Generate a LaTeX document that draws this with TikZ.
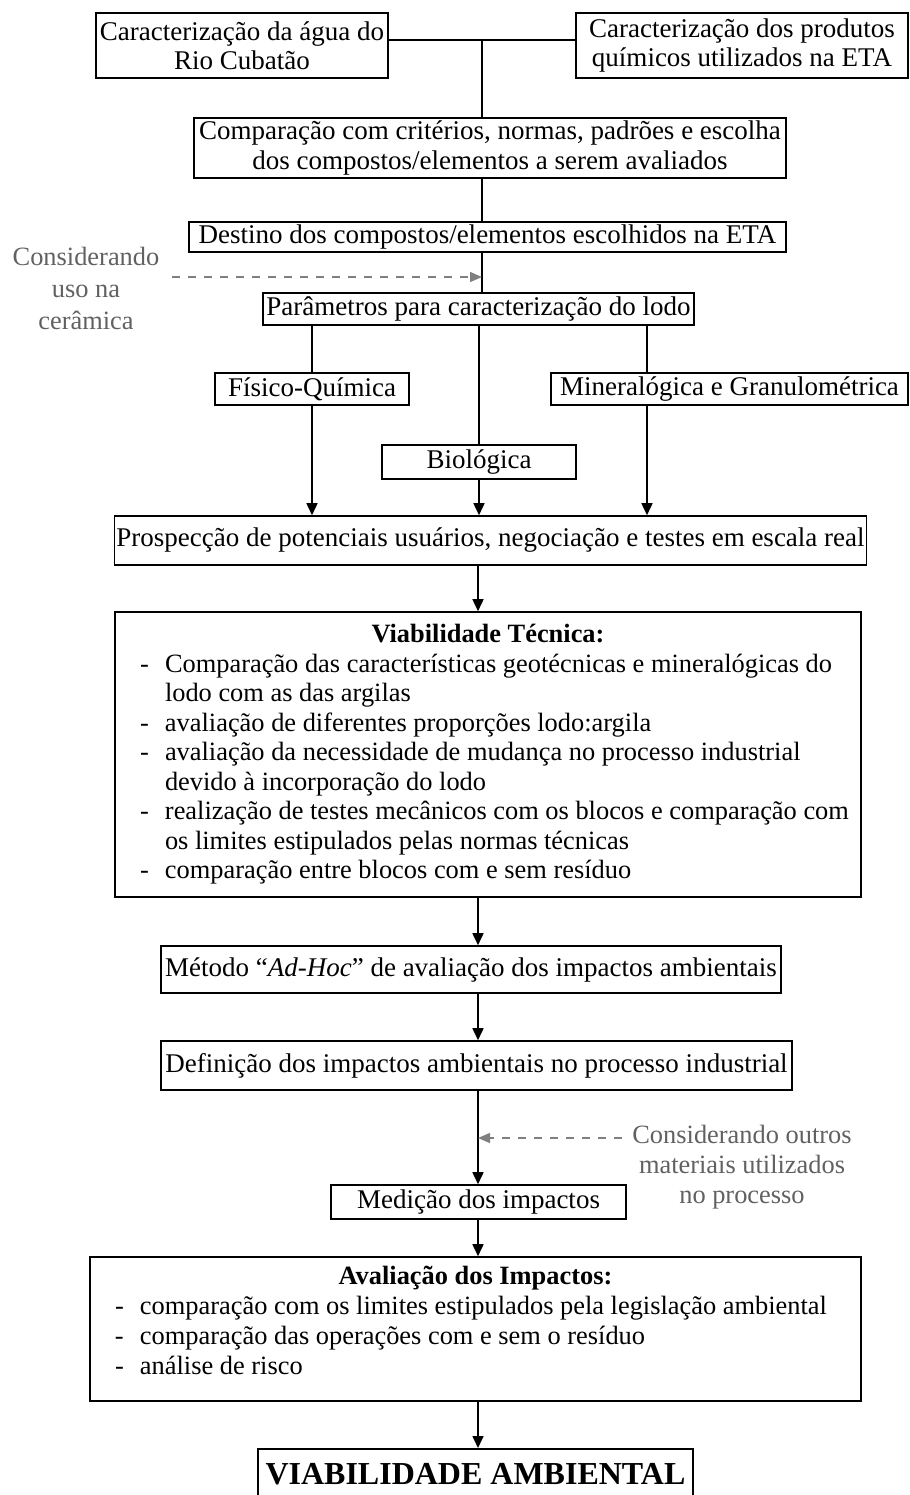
\documentclass[tikz,border=0pt]{standalone}
\usepackage{fontspec}
\setmainfont{Liberation Serif}
\usetikzlibrary{arrows.meta}

\newcommand{\itemline}[1]{\hspace*{9.5pt}\makebox[12.5pt][l]{-}#1}
\newcommand{\restline}[1]{\hspace*{22pt}#1}

\begin{document}
\begin{tikzpicture}[x=0.5pt,y=-0.5pt,
    box/.style={draw, line width=0.8pt, inner sep=1pt, align=center,
      font=\fontsize{13.5}{14.75}\selectfont},
    listbox/.style={box, align=left, inner xsep=3pt, font=\fontsize{13.2}{14.75}\selectfont},
    link/.style={line width=0.8pt},
    flow/.style={line width=0.8pt, -{Triangle[length=6pt,width=5.5pt]}},
    hint/.style={black!62, align=center, font=\fontsize{13.2}{15}\selectfont},
    hintarrow/.style={black!50, line width=0.7pt, dash pattern=on 4pt off 4pt,
      -{Triangle[length=6pt,width=5pt]}}]
    \useasboundingbox (0,0) rectangle (910,1495);
    \node[box, minimum width=146pt, minimum height=32.5pt] (agua) at (242,45.5) {Caracterização da água do\\Rio Cubatão};
    \node[box, minimum width=166pt, minimum height=32.5pt] (produtos) at (742,45.5) {Caracterização dos produtos\\químicos utilizados na ETA};
    \node[box, minimum width=296pt, minimum height=30pt] (comparacao) at (490,148) {Comparação com critérios, normas, padrões e escolha\\dos compostos/elementos a serem avaliados};
    \node[box, minimum width=298.5pt, minimum height=15pt] (destino) at (487.5,237) {Destino dos compostos/elementos escolhidos na ETA};
    \node[box, minimum width=215.5pt, minimum height=16pt] (parametros) at (478.5,309) {Parâmetros para caracterização do lodo};
    \node[box, minimum width=97pt, minimum height=16pt] (fisico) at (312,389) {Físico-Química};
    \node[box, minimum width=178.5pt, minimum height=16pt] (mineral) at (729.5,389) {Mineralógica e Granulométrica};
    \node[box, minimum width=97pt, minimum height=17pt] (bio) at (479,462) {Biológica};
    \node[box, minimum width=374.5pt, minimum height=24.5pt] (prospeccao) at (490.5,540.5) {Prospecção de potenciais usuários, negociação e testes em escala real};
    \node[listbox, minimum width=373pt, minimum height=142.5pt] (tecnica) at (488,754.5) {\makebox[367pt]{\textbf{Viabilidade Técnica:}}\\
      \itemline{Comparação das características geotécnicas e mineralógicas do}\\
      \restline{lodo com as das argilas}\\
      \itemline{avaliação de diferentes proporções lodo:argila}\\
      \itemline{avaliação da necessidade de mudança no processo industrial}\\
      \restline{devido à incorporação do lodo}\\
      \itemline{realização de testes mecânicos com os blocos e comparação com}\\
      \restline{os limites estipulados pelas normas técnicas}\\
      \itemline{comparação entre blocos com e sem resíduo}};
    \node[box, minimum width=310pt, minimum height=23.5pt] (metodo) at (471,969.5) {Método “\textit{Ad-Hoc}” de avaliação dos impactos ambientais};
    \node[box, minimum width=315.5pt, minimum height=24.5pt] (definicao) at (476.5,1065.5) {Definição dos impactos ambientais no processo industrial};
    \node[box, minimum width=147.5pt, minimum height=17pt] (medicao) at (478.5,1202) {Medição dos impactos};
    \node[listbox, minimum width=385.5pt, minimum height=72pt, inner ysep=0pt,
      font=\fontsize{13.2}{15}\selectfont] (avaliacao) at (475.5,1329) {\makebox[379.5pt]{\textbf{Avaliação dos Impactos:}}\\
      \itemline{comparação com os limites estipulados pela legislação ambiental}\\
      \itemline{comparação das operações com e sem o resíduo}\\
      \itemline{análise de risco}\\[-6pt]
      \mbox{}};
    \node[box, anchor=north, minimum width=217.5pt, minimum height=25pt,
      font=\fontsize{16}{18}\selectfont\bfseries] (ambiental) at (475.5,1448) {VIABILIDADE AMBIENTAL};
    \node[hint, font=\fontsize{13.2}{16}\selectfont] (usoceramica) at (86,288) {Considerando\\uso na\\cerâmica};
    \node[hint] (outrosmat) at (742,1167) {Considerando outros\\materiais utilizados\\no processo};
    \coordinate (joint) at (482,40);
    \coordinate (rbranch) at (647,0);
    \coordinate (spine) at (478,0);
    \coordinate (dashA) at (172,277);
    \coordinate (tipA) at (482,277);
    \coordinate (dashB) at (622,1138);
    \coordinate (tipB) at (478,1138);
    \draw[link] (agua.east |- joint) -- (produtos.west |- joint);
    \draw[link] (joint) -- (joint |- comparacao.north);
    \draw[link] (joint |- comparacao.south) -- (joint |- destino.north);
    \draw[link] (joint |- destino.south) -- (joint |- parametros.north);
    \draw[link] (fisico.north |- parametros.south) -- (fisico.north);
    \draw[link] (bio.north |- parametros.south) -- (bio.north);
    \draw[link] (rbranch |- parametros.south) -- (rbranch |- mineral.north);
    \draw[flow] (fisico.south) -- (fisico.south |- prospeccao.north);
    \draw[flow] (bio.south) -- (bio.south |- prospeccao.north);
    \draw[flow] (rbranch |- mineral.south) -- (rbranch |- prospeccao.north);
    \draw[flow] (spine |- prospeccao.south) -- (spine |- tecnica.north);
    \draw[flow] (spine |- tecnica.south) -- (spine |- metodo.north);
    \draw[flow] (spine |- metodo.south) -- (spine |- definicao.north);
    \draw[flow] (spine |- definicao.south) -- (spine |- medicao.north);
    \draw[flow] (spine |- medicao.south) -- (spine |- avaliacao.north);
    \draw[flow] (spine |- avaliacao.south) -- (spine |- ambiental.north);
    \draw[hintarrow] (dashA) -- (tipA);
    \draw[hintarrow] (dashB) -- (tipB);
\end{tikzpicture}
\end{document}
